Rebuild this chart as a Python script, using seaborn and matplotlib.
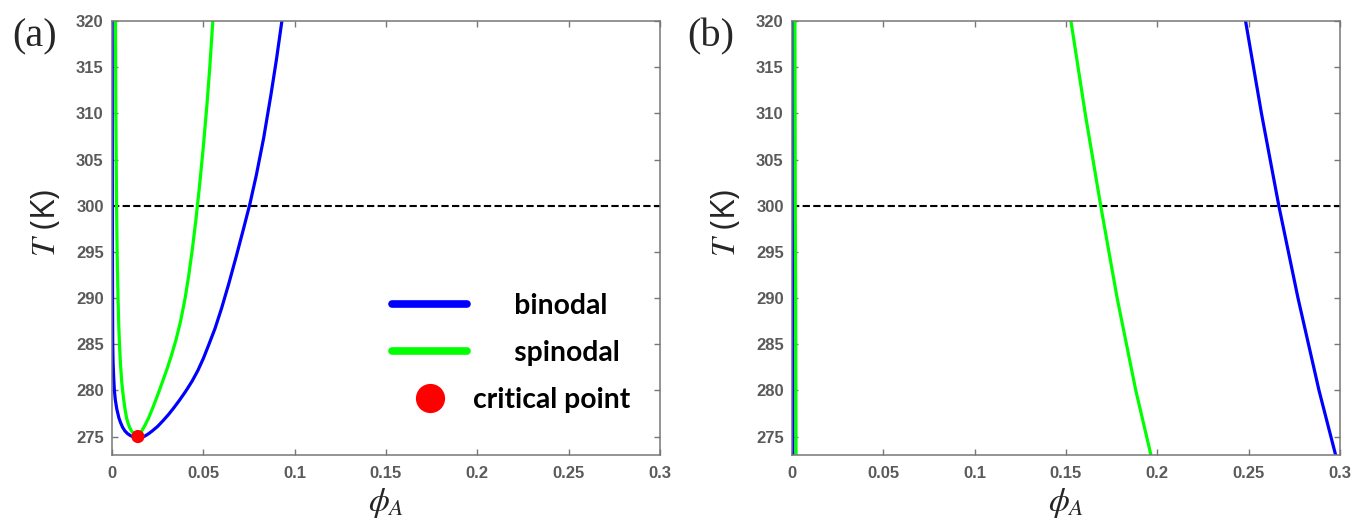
import numpy as np
import pandas as pd
import matplotlib
matplotlib.use("Agg")
import matplotlib.pyplot as plt
import seaborn as sns
from matplotlib.lines import Line2D

# ---------------- data ----------------
# Panel (a): binodal, left branch (top -> critical point)
T_bin_a_left = [320, 310, 300, 290, 285, 283, 281.5, 280, 279, 278, 277, 276.5, 276,
                275.6, 275.3, 275.1, 274.95, 274.87, 274.85]
phi_bin_a_left = [0.0001, 0.00015, 0.0002, 0.0003, 0.0004, 0.0006, 0.0009, 0.0013, 0.0018,
                  0.0026, 0.0038, 0.0047, 0.0058, 0.0071, 0.0086, 0.0101, 0.0118, 0.0131,
                  0.0142]
# Panel (a): binodal, right branch (critical point -> top)
phi_bin_a_right = [0.0142, 0.0160, 0.0180, 0.0200, 0.0220, 0.0250, 0.0281, 0.0310, 0.0340,
                   0.0370, 0.0400, 0.0418, 0.0440, 0.0470, 0.0500, 0.0530, 0.0564, 0.0600,
                   0.0640, 0.0680, 0.0720, 0.0755, 0.0790, 0.0830, 0.0870, 0.0900, 0.0930]
T_bin_a_right = [274.85, 274.90, 275.05, 275.3, 275.6, 276.1, 276.75, 277.4, 278.15,
                 278.95, 279.8, 280.35, 281.05, 282.15, 283.45, 284.95, 286.7, 288.9,
                 291.6, 294.5, 297.5, 300.2, 303.3, 307.3, 312.0, 315.8, 320.0]

# Panel (a): spinodal, left branch (top -> critical point)
T_spi_a_left = [320, 310, 300, 295, 290, 287, 285, 283, 281, 280, 279, 278, 277, 276.5,
                276, 275.6, 275.3, 275.1, 275.0]
phi_spi_a_left = [0.0019, 0.0021, 0.0025, 0.0028, 0.0033, 0.0037, 0.0041, 0.0046, 0.0053,
                  0.0058, 0.0064, 0.0071, 0.0080, 0.0087, 0.0096, 0.0107, 0.0120, 0.0132,
                  0.0142]
# Panel (a): spinodal, right branch (critical point -> top)
phi_spi_a_right = [0.0142, 0.0160, 0.0180, 0.0200, 0.0225, 0.0250, 0.0275, 0.0300, 0.0325,
                   0.0350, 0.0375, 0.0400, 0.0420, 0.0440, 0.0460, 0.0480, 0.0500, 0.0520,
                   0.0535, 0.0552]
T_spi_a_right = [275.0, 275.5, 276.2, 277.0, 278.2, 279.5, 280.85, 282.25, 283.75, 285.45,
                 287.45, 289.95, 292.45, 295.3, 298.6, 302.3, 306.4, 311.0, 314.9, 320.0]

# Critical point
phi_crit = [0.0142]
T_crit = [275.0]

# Panel (b)
T_b = [273, 280, 290, 300, 310, 320]
phi_bin_b_left = [0.0005, 0.0005, 0.0004, 0.0004, 0.0003, 0.0003]
phi_bin_b_right = [0.2976, 0.2885, 0.2770, 0.2665, 0.2570, 0.2483]
phi_spi_b_left = [0.0022, 0.0021, 0.0020, 0.0018, 0.0017, 0.0016]
phi_spi_b_right = [0.1965, 0.1882, 0.1780, 0.1690, 0.1605, 0.1527]

T_ref = 300
x_ticks = [0, 0.05, 0.1, 0.15, 0.2, 0.25, 0.3]
x_ticklabels = ["0", "0.05", "0.1", "0.15", "0.2", "0.25", "0.3"]
y_ticks = [275, 280, 285, 290, 295, 300, 305, 310, 315, 320]
legend_labels = ["binodal", "spinodal", "critical point"]
panel_labels = ["(a)", "(b)"]

# ---------------- style ----------------
sns.set_theme(style="white")
plt.rcParams["font.family"] = ["Liberation Sans", "DejaVu Sans"]
plt.rcParams["mathtext.fontset"] = "stix"

BLUE = "#0000ff"
GREEN = "#00ff00"
RED = "#ff0000"
TICKC = "#5a5a5a"
SPINEC = "#777777"

fig = plt.figure(figsize=(13.53, 5.22), dpi=100)
axA = fig.add_axes([112 / 1353, 1 - 455 / 522, 548 / 1353, 434 / 522])
axB = fig.add_axes([792 / 1353, 1 - 455 / 522, 548 / 1353, 434 / 522])


def curve(ax, phi, T, color, lw=2.3):
    df = pd.DataFrame({"phi": phi, "T": T})
    sns.lineplot(data=df, x="phi", y="T", sort=False, estimator=None, color=color,
                 linewidth=lw, ax=ax, legend=False)


# Panel (a)
curve(axA, phi_bin_a_left + phi_bin_a_right[1:], T_bin_a_left + T_bin_a_right[1:], BLUE)
curve(axA, phi_spi_a_left + phi_spi_a_right[1:], T_spi_a_left + T_spi_a_right[1:], GREEN)
sns.scatterplot(x=phi_crit, y=T_crit, color=RED, s=90, edgecolor="none", ax=axA,
                zorder=5, legend=False)

# Panel (b)
curve(axB, phi_bin_b_left, T_b, BLUE)
curve(axB, phi_spi_b_left, T_b, GREEN)
curve(axB, phi_spi_b_right, T_b, GREEN)
curve(axB, phi_bin_b_right, T_b, BLUE)

for ax in [axA, axB]:
    ax.axhline(T_ref, color="black", linestyle=(0, (3.5, 1.6)), linewidth=1.5, zorder=1)
    ax.set_xlim(0, 0.3)
    ax.set_ylim(273, 320)
    ax.set_xticks(x_ticks)
    ax.set_xticklabels(x_ticklabels)
    ax.set_yticks(y_ticks)
    ax.tick_params(axis="both", direction="in", length=4, width=1, color=SPINEC,
                   labelcolor=TICKC, labelsize=12, top=True, right=True,
                   bottom=True, left=True)
    ax.tick_params(axis="x", pad=8)
    ax.tick_params(axis="y", pad=6)
    for t in ax.get_xticklabels() + ax.get_yticklabels():
        t.set_fontweight("bold")
    for s in ax.spines.values():
        s.set_visible(True)
        s.set_color(SPINEC)
        s.set_linewidth(1.1)
    ax.set_xlabel(r"$\phi_A$", fontsize=24)
    ax.set_ylabel(r"$T$ (K)", fontsize=24, family=["Open Sans", "DejaVu Sans"])
    ax.yaxis.set_label_coords(-0.09, 0.535)
    ax.xaxis.set_label_coords(0.5, -0.149)
    ax.xaxis.label.set_va("bottom")

fig.text(12 / 1353, 1 - 18 / 522, panel_labels[0], fontsize=29, family="Liberation Serif",
         va="top", ha="left")
fig.text(687 / 1353, 1 - 18 / 522, panel_labels[1], fontsize=29, family="Liberation Serif",
         va="top", ha="left")

handles = [
    Line2D([], [], color=BLUE, linewidth=5.5),
    Line2D([], [], color=GREEN, linewidth=5.5),
    Line2D([], [], color=RED, linestyle="none", marker="o", markersize=20),
]
# labels are visually centred in the reference legend: indent the shorter ones
indent = " " * 6
shown_labels = [indent + legend_labels[0], indent + legend_labels[1], legend_labels[2]]
leg = axA.legend(handles, shown_labels, loc="upper left", bbox_to_anchor=(0.511, 0.374),
                 borderpad=0, borderaxespad=0, frameon=False, handlelength=2.66,
                 handletextpad=0.2, labelspacing=0.75,
                 prop={"family": "Lato", "weight": "bold", "size": 20.3})
for t in leg.get_texts():
    t.set_color("black")

fig.savefig("out.png", dpi=100)
